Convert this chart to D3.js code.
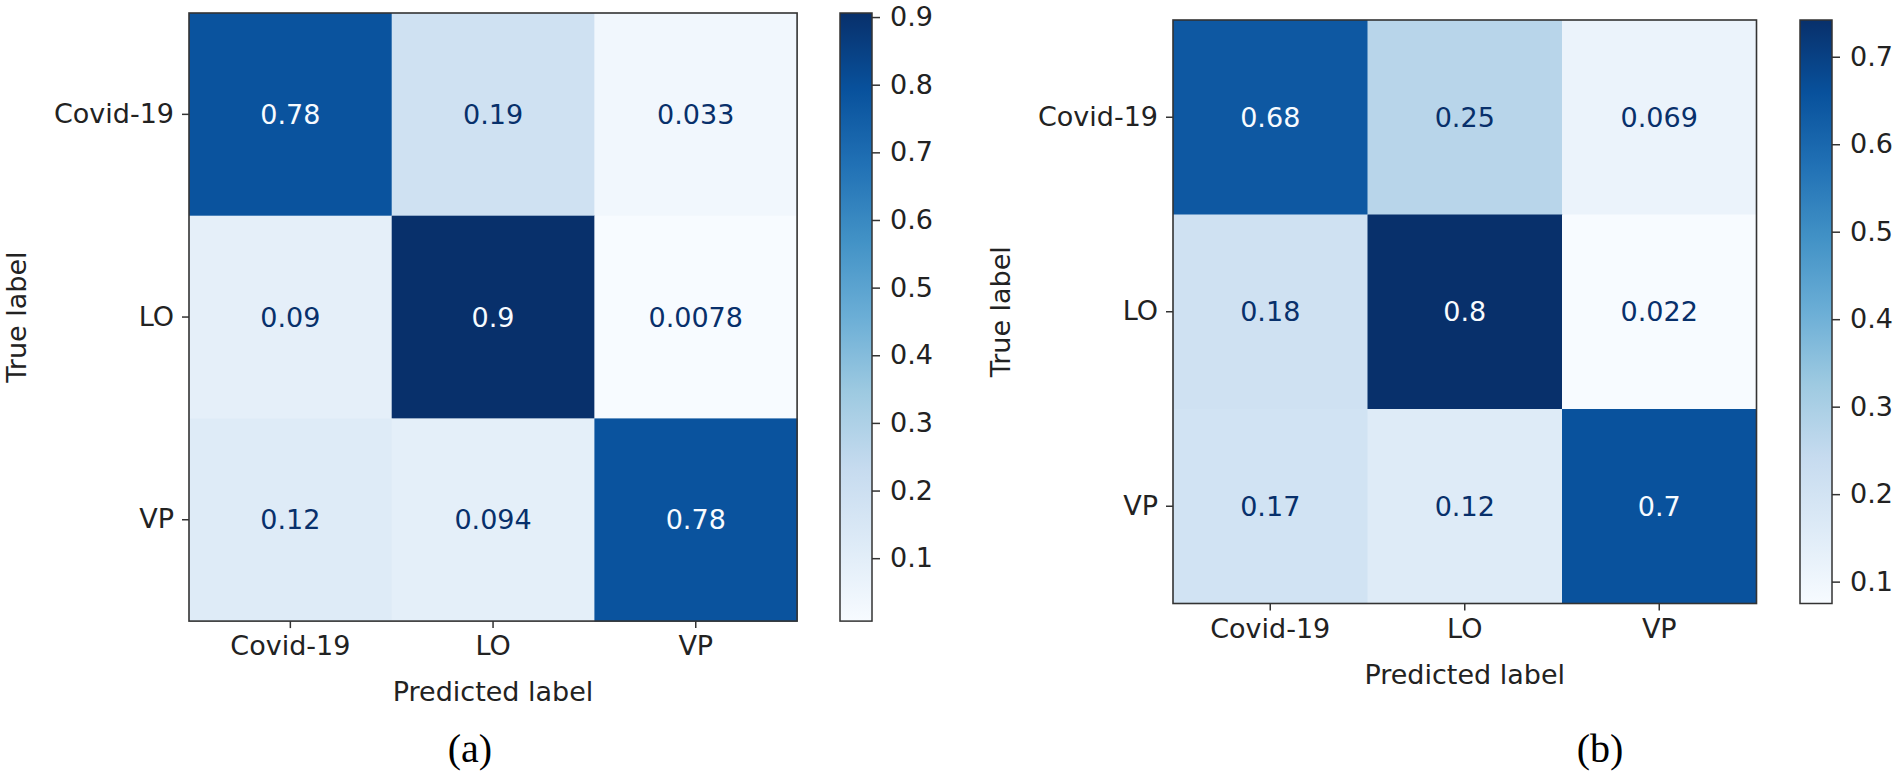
<!DOCTYPE html>
<html>
<head>
<meta charset="utf-8">
<script src="https://cdn.jsdelivr.net/npm/d3@7"></script>
<style>
  body { margin: 0; background: #fff; }
  text { font-family: "DejaVu Sans", sans-serif; }
</style>
</head>
<body>
<div id="chart"></div>
<script>
// class labels shared by both matrices
const classLabels = ["Covid-19", "LO", "VP"];

// normalised confusion matrices (rows = true label, cols = predicted label)
const matrixA = [
  [0.78, 0.19, 0.033],
  [0.09, 0.9, 0.0078],
  [0.12, 0.094, 0.78],
];
const matrixB = [
  [0.68, 0.25, 0.069],
  [0.18, 0.8, 0.022],
  [0.17, 0.12, 0.7],
];

// colorbar ticks and the value range each colorbar spans
const ticksA = [0.1, 0.2, 0.3, 0.4, 0.5, 0.6, 0.7, 0.8, 0.9];
const ticksB = [0.1, 0.2, 0.3, 0.4, 0.5, 0.6, 0.7];
const cbRangeA = [0.007, 0.906];
const cbRangeB = [0.075, 0.742];

const captions = ["(a)", "(b)"];

// matplotlib "Blues" anchors
const blues = ["#f7fbff", "#deebf7", "#c6dbef", "#9ecae1", "#6baed6",
               "#4292c6", "#2171b5", "#08519c", "#08306b"];

const width = 1900, height = 776;
const fontSize = 27;

const svg = d3.select("#chart").append("svg")
  .attr("width", width)
  .attr("height", height);

const defs = svg.append("defs");

const panels = [
  { data: matrixA, ticks: ticksA, cbRange: cbRangeA, caption: captions[0],
    left: 189, top: 13, cell: 202.7, cbX: 840, capX: 470 },
  { data: matrixB, ticks: ticksB, cbRange: cbRangeB, caption: captions[1],
    left: 1173, top: 20, cell: 194.5, cbX: 1800, capX: 1600 },
];

panels.forEach((p, pi) => {
  const flat = p.data.flat();
  const vmin = d3.min(flat), vmax = d3.max(flat);
  const size = p.cell * classLabels.length;

  const color = d3.scaleLinear()
    .domain(d3.range(blues.length).map(i => vmin + (vmax - vmin) * i / (blues.length - 1)))
    .range(blues)
    .interpolate(d3.interpolateRgb);

  const x = d3.scaleBand().domain(classLabels).range([p.left, p.left + size]);
  const y = d3.scaleBand().domain(classLabels).range([p.top, p.top + size]);

  const g = svg.append("g");

  const cells = [];
  p.data.forEach((row, r) => row.forEach((v, c) => cells.push({ r, c, v })));

  g.selectAll(".cell")
    .data(cells)
    .enter()
    .append("rect")
    .attr("class", "cell")
    .attr("x", d => x(classLabels[d.c]))
    .attr("y", d => y(classLabels[d.r]))
    .attr("width", x.bandwidth() + 0.5)
    .attr("height", y.bandwidth() + 0.5)
    .attr("fill", d => color(d.v));

  // text colour flips at the midpoint like ConfusionMatrixDisplay
  const thresh = (vmin + vmax) / 2;
  g.selectAll(".val")
    .data(cells)
    .enter()
    .append("text")
    .attr("class", "val")
    .attr("x", d => x(classLabels[d.c]) + x.bandwidth() / 2)
    .attr("y", d => y(classLabels[d.r]) + y.bandwidth() / 2)
    .attr("dy", "0.36em")
    .attr("text-anchor", "middle")
    .attr("font-size", fontSize)
    .attr("fill", d => d.v > thresh ? blues[0] : blues[8])
    .text(d => d3.format(".2~g")(d.v));

  // frame
  g.append("rect")
    .attr("x", p.left).attr("y", p.top)
    .attr("width", size).attr("height", size)
    .attr("fill", "none")
    .attr("stroke", "#333")
    .attr("stroke-width", 1.6);

  // axes
  const xAxis = d3.axisBottom(x).tickSize(7).tickPadding(8);
  const yAxis = d3.axisLeft(y).tickSize(7).tickPadding(8);

  const gx = g.append("g")
    .attr("transform", `translate(0,${p.top + size})`)
    .call(xAxis);
  const gy = g.append("g")
    .attr("transform", `translate(${p.left},0)`)
    .call(yAxis);

  [gx, gy].forEach(a => {
    a.select(".domain").remove();
    a.selectAll(".tick line").attr("stroke", "#333").attr("stroke-width", 1.5);
    a.selectAll(".tick text")
      .attr("font-size", fontSize)
      .attr("font-family", "DejaVu Sans")
      .attr("fill", "#222");
  });

  g.append("text")
    .attr("x", p.left + size / 2)
    .attr("y", p.top + size + 80)
    .attr("text-anchor", "middle")
    .attr("font-size", fontSize)
    .attr("fill", "#222")
    .text("Predicted label");

  g.append("text")
    .attr("transform", `translate(${p.left - 163},${p.top + size / 2}) rotate(-90)`)
    .attr("text-anchor", "middle")
    .attr("font-size", fontSize)
    .attr("fill", "#222")
    .text("True label");

  // colorbar
  const cbW = 32;
  const cbY = d3.scaleLinear().domain(p.cbRange).range([p.top + size, p.top]);
  const gradId = `grad-${pi}`;
  const grad = defs.append("linearGradient")
    .attr("id", gradId)
    .attr("x1", 0).attr("y1", 1).attr("x2", 0).attr("y2", 0);
  grad.selectAll("stop")
    .data(blues)
    .enter()
    .append("stop")
    .attr("offset", (d, i) => i / (blues.length - 1))
    .attr("stop-color", d => d);

  g.append("rect")
    .attr("x", p.cbX).attr("y", p.top)
    .attr("width", cbW).attr("height", size)
    .attr("fill", `url(#${gradId})`)
    .attr("stroke", "#333")
    .attr("stroke-width", 1.5);

  const cbAxis = d3.axisRight(cbY)
    .tickValues(p.ticks)
    .tickFormat(d3.format(".1f"))
    .tickSize(8)
    .tickPadding(10);

  const gcb = g.append("g")
    .attr("transform", `translate(${p.cbX + cbW},0)`)
    .call(cbAxis);
  gcb.select(".domain").remove();
  gcb.selectAll(".tick line").attr("stroke", "#333").attr("stroke-width", 1.5);
  gcb.selectAll(".tick text")
    .attr("font-size", fontSize)
    .attr("font-family", "DejaVu Sans")
    .attr("fill", "#222");

  // caption
  svg.append("text")
    .attr("x", p.capX)
    .attr("y", 762)
    .attr("text-anchor", "middle")
    .attr("font-size", 40)
    .style("font-family", "'Liberation Serif', serif")
    .attr("fill", "#000")
    .text(p.caption);
});
</script>
</body>
</html>
